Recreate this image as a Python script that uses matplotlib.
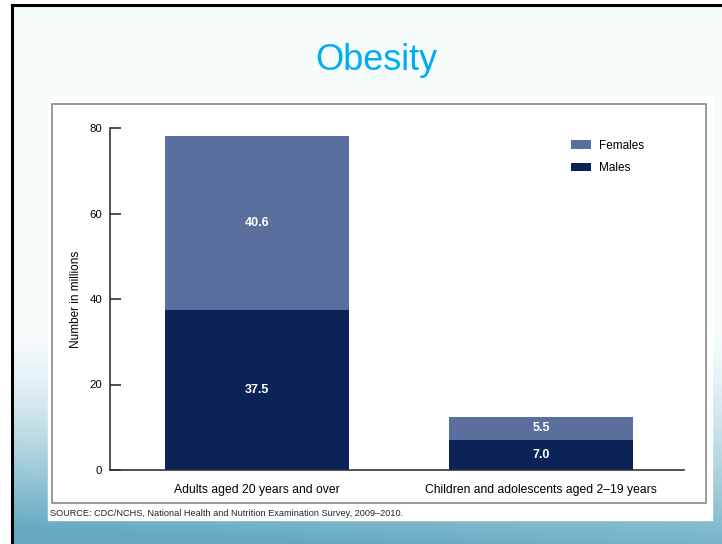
import matplotlib.pyplot as plt
import numpy as np
from matplotlib.patches import Rectangle
from matplotlib.lines import Line2D

categories = ["Adults aged 20 years and over", "Children and adolescents aged 2\u201319 years"]
males = [37.5, 7.0]
females = [40.6, 5.5]
y_ticks = [0, 20, 40, 60, 80]

female_color = "#5b6f9f"
male_color = "#0b2357"

W, H = 722, 544
fig = plt.figure(figsize=(W / 100, H / 100), dpi=100)

# slide background: pale at top, teal towards the bottom
bg = fig.add_axes([0, 0, 1, 1])
bg.set_axis_off()
yy = np.linspace(0, 1, H)[:, None]
xx = np.linspace(0, 1, W)[None, :]
t = np.clip((yy - 0.62) / 0.38, 0, 1) ** 1.3
t = t * (1.0 - 0.12 * xx) + 0.12 * np.clip((yy - 0.75) / 0.25, 0, 1) * (1 - xx)
t = np.clip(t, 0, 1)
top = np.array([0.965, 0.985, 0.99])
bot = np.array([0.40, 0.67, 0.76])
img = top[None, None, :] * (1 - t[..., None]) + bot[None, None, :] * t[..., None]
bg.imshow(img, extent=[0, W, H, 0], aspect="auto")
bg.add_patch(Rectangle((0, 0), 12, H, color="white"))
bg.add_patch(Rectangle((0, 0), W, 5, color="white"))
bg.add_line(Line2D([12, 12], [5, H], color="black", lw=2.2))
bg.add_line(Line2D([12, W], [5, 5], color="black", lw=2.2))
# chart picture panel
bg.add_patch(Rectangle((48, 96), 664, 424, color="white"))
bg.add_patch(Rectangle((52, 104), 654, 399, fill=False, edgecolor="#8a8a8a", lw=1.2))
bg.set_xlim(0, W)
bg.set_ylim(H, 0)

fig.text(376 / W, 1 - 60 / H, "Obesity", color="#00aeef", fontsize=26,
         ha="center", va="center", family="Liberation Sans")
fig.text(50 / W, 1 - 514 / H,
         "SOURCE: CDC/NCHS, National Health and Nutrition Examination Survey, 2009\u20132010.",
         fontsize=6.6, ha="left", va="center", color="#222222", family="Liberation Sans")

ax = fig.add_axes([110 / W, 1 - 470 / H, 574 / W, 342 / H])
ax.patch.set_alpha(0)
x = np.arange(len(categories))
ax.bar(x, males, width=0.65, color=male_color, label="Males")
ax.bar(x, females, width=0.65, bottom=males, color=female_color, label="Females")
for i in range(len(categories)):
    ax.text(x[i], males[i] / 2, f"{males[i]:.1f}", color="white", ha="center",
            va="center", fontsize=9, fontweight="bold", family="Liberation Sans")
    ax.text(x[i], males[i] + females[i] / 2, f"{females[i]:.1f}", color="white",
            ha="center", va="center", fontsize=9, fontweight="bold", family="Liberation Sans")

ax.set_xlim(-0.518, 1.504)
ax.set_ylim(0, 80)
ax.set_yticks(y_ticks)
ax.set_xticks(x)
ax.set_xticklabels(categories, fontsize=8.7, family="Liberation Sans")
ax.tick_params(axis="x", length=0, pad=10)
ax.tick_params(axis="y", length=8, width=1.2, labelsize=8.2, pad=5.8, direction="in",
               color="#333333")
for lab in ax.get_yticklabels():
    lab.set_family("Liberation Sans")
ax.spines["top"].set_visible(False)
ax.spines["right"].set_visible(False)
ax.spines["left"].set_linewidth(1.2)
ax.spines["bottom"].set_linewidth(1.2)
ax.spines["left"].set_color("#333333")
ax.spines["bottom"].set_color("#333333")
ax.set_ylabel("Number in millions", fontsize=8.5, family="Liberation Sans", labelpad=5.3)

handles, labels = ax.get_legend_handles_labels()
fig.legend(handles[::-1], labels[::-1], loc="upper left",
           bbox_to_anchor=(560 / W, 1 - 129 / H), frameon=False,
           prop={"family": "Liberation Sans", "size": 8.5},
           handlelength=1.7, handleheight=0.7, handletextpad=0.7, labelspacing=0.9)

fig.savefig("out.png", dpi=100)
